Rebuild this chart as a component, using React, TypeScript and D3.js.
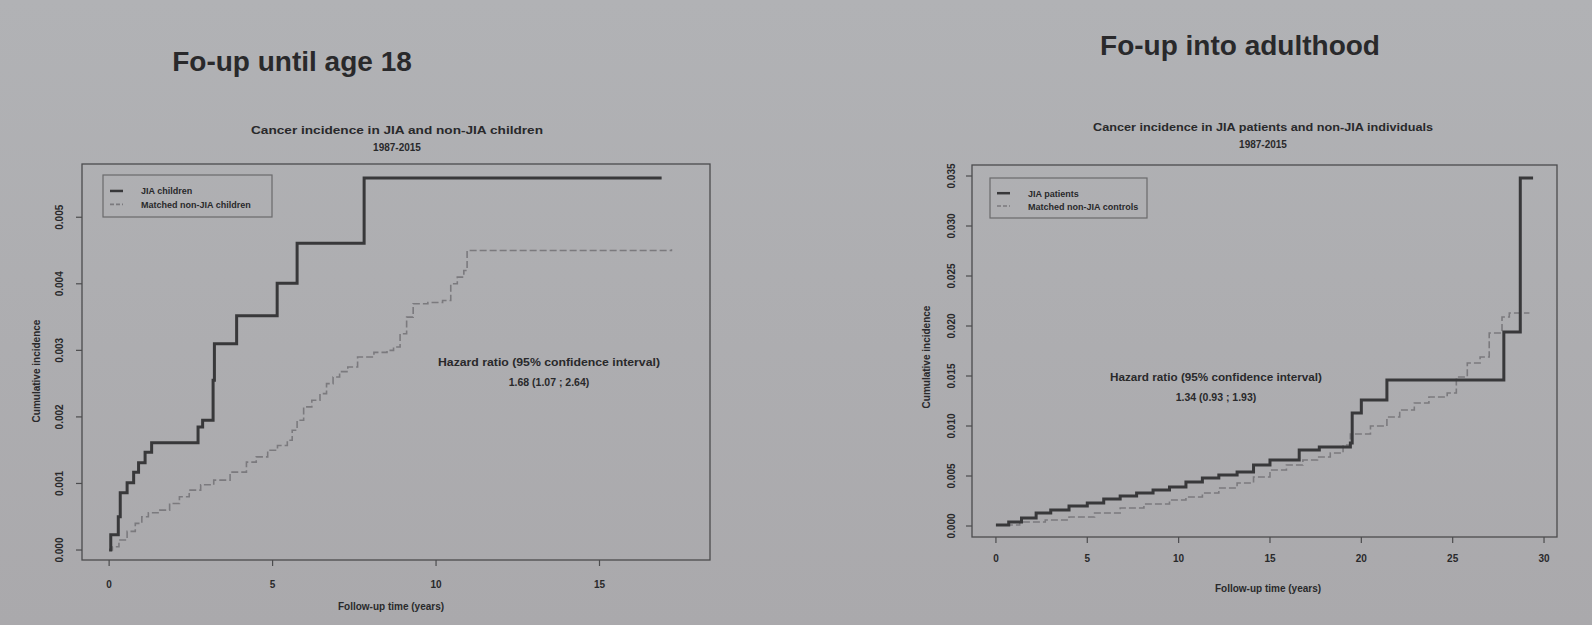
import * as d3 from "d3";
import React from "react";

const W = 1592;
const H = 625;

// Left panel: follow-up until age 18 (values in cumulative incidence x 1e-3)
const leftJiaTime = [0, 0.05, 0.28, 0.34, 0.55, 0.75, 0.9, 1.1, 1.3, 2.72, 2.86, 3.18, 3.22, 3.9, 5.14, 5.75, 7.8, 16.9];
const leftJiaInc = [0, 0.23, 0.5, 0.86, 1.01, 1.17, 1.31, 1.47, 1.61, 1.85, 1.95, 2.55, 3.1, 3.52, 4.01, 4.61, 5.59, 5.59];
const leftRefTime = [0, 0.1, 0.3, 0.55, 0.8, 1.0, 1.2, 1.55, 1.85, 2.15, 2.45, 2.8, 3.2, 3.7, 4.2, 4.5, 4.85, 5.15, 5.45, 5.6, 5.75, 5.95, 6.2, 6.45, 6.65, 6.85, 7.05, 7.3, 7.6, 8.1, 8.5, 8.7, 8.9, 9.1, 9.3, 9.75, 10.2, 10.45, 10.65, 10.85, 10.95, 17.2];
const leftRefInc = [0, 0.05, 0.15, 0.28, 0.4, 0.5, 0.56, 0.6, 0.7, 0.8, 0.9, 0.98, 1.05, 1.17, 1.32, 1.4, 1.5, 1.57, 1.65, 1.8, 1.95, 2.15, 2.25, 2.35, 2.5, 2.6, 2.68, 2.75, 2.9, 2.97, 3.0, 3.05, 3.25, 3.5, 3.7, 3.72, 3.75, 4.0, 4.1, 4.2, 4.5, 4.52];
const leftXTicks = [0, 5, 10, 15];
const leftYTicks = [0, 0.001, 0.002, 0.003, 0.004, 0.005];

// Right panel: follow-up into adulthood
const rightJiaTime = [0, 0.7, 1.4, 2.2, 3.0, 4.0, 5.0, 5.9, 6.8, 7.7, 8.6, 9.5, 10.4, 11.3, 12.2, 13.2, 14.1, 15.0, 16.6, 17.7, 19.4, 19.5, 20.0, 21.4, 27.8, 28.7, 29.4];
const rightJiaInc = [0.1, 0.4, 0.8, 1.3, 1.6, 2.0, 2.3, 2.7, 3.0, 3.3, 3.6, 3.9, 4.4, 4.8, 5.1, 5.4, 6.1, 6.6, 7.6, 7.9, 8.3, 11.3, 12.6, 14.6, 19.4, 34.8, 34.8];
const rightRefTime = [0, 1.3, 2.7, 4.0, 5.4, 6.8, 8.1, 9.5, 10.4, 11.3, 12.2, 13.2, 14.1, 15.0, 15.9, 16.8, 17.6, 18.3, 19.0, 19.4, 20.5, 21.4, 22.1, 22.9, 23.7, 24.7, 25.2, 25.8, 26.5, 27.0, 27.7, 28.1, 29.2];
const rightRefInc = [0.1, 0.4, 0.6, 0.9, 1.3, 1.8, 2.2, 2.6, 2.9, 3.3, 3.8, 4.3, 4.9, 5.6, 6.1, 6.6, 6.9, 7.3, 8.1, 9.2, 10.0, 10.9, 11.6, 12.3, 12.9, 13.3, 14.9, 16.3, 16.9, 19.3, 20.9, 21.3, 21.3];
const rightXTicks = [0, 5, 10, 15, 20, 25, 30];
const rightYTicks = [0, 0.005, 0.01, 0.015, 0.02, 0.025, 0.03, 0.035];

const INK = "#29292b";
const FONT = "'Liberation Sans', Arial, sans-serif";

type Pt = [number, number];

function zipSeries(t: number[], v: number[]): Pt[] {
  return t.map((d, i) => [d, v[i] / 1000] as Pt);
}

type PanelProps = {
  box: { left: number; top: number; right: number; bottom: number };
  xDomain: [number, number];
  yDomain: [number, number];
  xTicks: number[];
  yTicks: number[];
  jia: Pt[];
  ref: Pt[];
  heading: string;
  headingX: number;
  headingY: number;
  subtitle: string[];
  subX: number;
  subY: number;
  subW: number;
  legend: string[];
  legBox: { x: number; y: number; w: number; h: number };
  hr: string[];
  hrX: number;
  hrY: number;
  hrW: number;
  yLabelX: number;
  yLabelY: number;
  yTickX: number;
  xTickY: number;
  xLabelX: number;
  xLabelY: number;
};

function Panel(p: PanelProps) {
  const { box } = p;
  const x = d3.scaleLinear().domain(p.xDomain).range([box.left, box.right]);
  const y = d3.scaleLinear().domain(p.yDomain).range([box.bottom, box.top]);
  const line = d3
    .line<Pt>()
    .x((d) => x(d[0]))
    .y((d) => y(d[1]))
    .curve(d3.curveStepAfter);
  const fmt = d3.format(".3f");
  const lb = p.legBox;

  return (
    <g fontFamily={FONT} fill={INK}>
      <text x={p.headingX} y={p.headingY} fontSize={28} fontWeight="bold" textAnchor="middle">
        {p.heading}
      </text>
      <text x={p.subX} y={p.subY} fontSize={10} fontWeight="bold" textAnchor="middle"
        textLength={p.subW} lengthAdjust="spacingAndGlyphs">
        {p.subtitle[0]}
      </text>
      <text x={p.subX} y={p.subY + 17} fontSize={10} fontWeight="bold" textAnchor="middle">
        {p.subtitle[1]}
      </text>

      <rect x={box.left} y={box.top} width={box.right - box.left} height={box.bottom - box.top}
        fill="none" stroke="#4c4c4e" strokeWidth={1.3} />

      {p.xTicks.map((t) => (
        <g key={"x" + t}>
          <line x1={x(t)} x2={x(t)} y1={box.bottom} y2={box.bottom + 6} stroke="#4c4c4e" strokeWidth={1.2} />
          <text x={x(t)} y={p.xTickY} fontSize={10} fontWeight="bold" textAnchor="middle">{t}</text>
        </g>
      ))}
      {p.yTicks.map((v) => (
        <g key={"y" + v}>
          <line x1={box.left - 6} x2={box.left} y1={y(v)} y2={y(v)} stroke="#4c4c4e" strokeWidth={1.2} />
          <text transform={`translate(${p.yTickX},${y(v)}) rotate(-90)`} fontSize={10} fontWeight="bold"
            textAnchor="middle">{fmt(v)}</text>
        </g>
      ))}

      <text transform={`translate(${p.yLabelX},${p.yLabelY}) rotate(-90)`} fontSize={10} fontWeight="bold"
        textAnchor="middle">Cumulative incidence</text>
      <text x={p.xLabelX} y={p.xLabelY} fontSize={10} fontWeight="bold" textAnchor="middle">
        Follow-up time (years)
      </text>

      <path d={line(p.ref) || ""} fill="none" stroke="#7b7a7e" strokeWidth={1.6} strokeDasharray="7 3" />
      <path d={line(p.jia) || ""} fill="none" stroke="#38383a" strokeWidth={3} />

      <rect x={lb.x} y={lb.y} width={lb.w} height={lb.h} fill="none" stroke="#6a6a6c" strokeWidth={1.2} />
      <line x1={lb.x + 7} x2={lb.x + 20} y1={lb.y + lb.h * 0.38} y2={lb.y + lb.h * 0.38} stroke="#38383a" strokeWidth={2.5} />
      <line x1={lb.x + 7} x2={lb.x + 20} y1={lb.y + lb.h * 0.7} y2={lb.y + lb.h * 0.7} stroke="#7b7a7e" strokeWidth={1.6} strokeDasharray="4 2" />
      <text x={lb.x + 38} y={lb.y + lb.h * 0.38 + 3.5} fontSize={9} fontWeight="bold">{p.legend[0]}</text>
      <text x={lb.x + 38} y={lb.y + lb.h * 0.7 + 3.5} fontSize={9} fontWeight="bold">{p.legend[1]}</text>

      <text x={p.hrX} y={p.hrY} fontSize={10.5} fontWeight="bold" textAnchor="middle"
        textLength={p.hrW} lengthAdjust="spacingAndGlyphs">{p.hr[0]}</text>
      <text x={p.hrX} y={p.hrY + 20} fontSize={10.5} fontWeight="bold" textAnchor="middle">{p.hr[1]}</text>
    </g>
  );
}

export default function App() {
  return (
    <div style={{ position: "absolute", left: 0, top: 0 }}>
      <svg width={W} height={H} style={{ display: "block" }}>
        <defs>
          <linearGradient id="bg" x1="0" y1="0" x2="0" y2="1">
            <stop offset="0" stopColor="#b1b2b5" />
            <stop offset="1" stopColor="#aaa9ac" />
          </linearGradient>
        </defs>
        <rect width={W} height={H} fill="url(#bg)" />
        <Panel
          box={{ left: 82, top: 164, right: 710, bottom: 560 }}
          xDomain={[-0.83, 18.38]}
          yDomain={[-0.00015, 0.0058]}
          xTicks={leftXTicks}
          yTicks={leftYTicks}
          jia={zipSeries(leftJiaTime, leftJiaInc)}
          ref={zipSeries(leftRefTime, leftRefInc)}
          heading="Fo-up until age 18"
          headingX={292}
          headingY={71}
          subtitle={["Cancer incidence in JIA and non-JIA children", "1987-2015"]}
          subX={397}
          subY={134}
          subW={292}
          legend={["JIA children", "Matched non-JIA children"]}
          legBox={{ x: 103, y: 175, w: 169, h: 42 }}
          hr={["Hazard ratio (95% confidence interval)", "1.68 (1.07 ; 2.64)"]}
          hrX={549}
          hrY={366}
          hrW={222}
          yLabelX={40}
          yLabelY={371}
          yTickX={63}
          xTickY={588}
          xLabelX={391}
          xLabelY={610}
        />
        <Panel
          box={{ left: 972, top: 165, right: 1557, bottom: 537 }}
          xDomain={[-1.31, 30.71]}
          yDomain={[-0.0011, 0.0361]}
          xTicks={rightXTicks}
          yTicks={rightYTicks}
          jia={zipSeries(rightJiaTime, rightJiaInc)}
          ref={zipSeries(rightRefTime, rightRefInc)}
          heading="Fo-up into adulthood"
          headingX={1240}
          headingY={55}
          subtitle={["Cancer incidence in JIA patients and non-JIA individuals", "1987-2015"]}
          subX={1263}
          subY={131}
          subW={340}
          legend={["JIA patients", "Matched non-JIA controls"]}
          legBox={{ x: 990, y: 178, w: 157, h: 40 }}
          hr={["Hazard ratio (95% confidence interval)", "1.34 (0.93 ; 1.93)"]}
          hrX={1216}
          hrY={381}
          hrW={212}
          yLabelX={930}
          yLabelY={357}
          yTickX={955}
          xTickY={562}
          xLabelX={1268}
          xLabelY={592}
        />
      </svg>
    </div>
  );
}
